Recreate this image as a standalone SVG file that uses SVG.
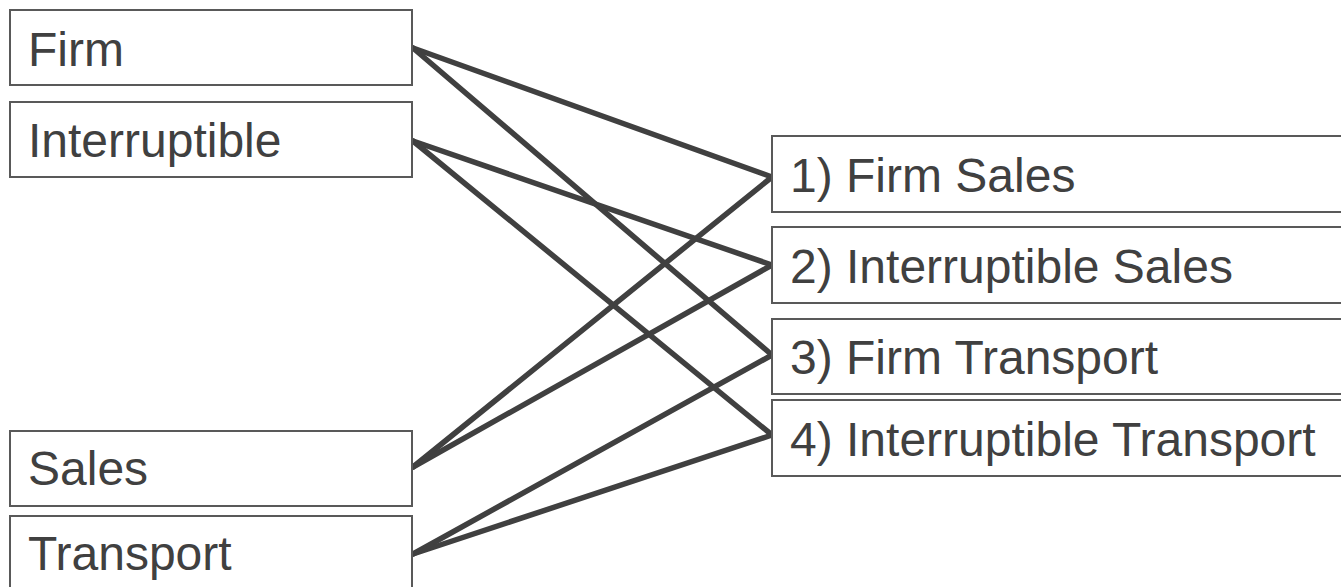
<svg xmlns="http://www.w3.org/2000/svg" width="1341" height="587" viewBox="0 0 1341 587">
<style>
.box{fill:#ffffff;stroke:#595959;stroke-width:2}
.lbl{font-family:"Liberation Sans",Arial,sans-serif;font-size:48px;fill:#404040}
.conn{stroke:#404040;stroke-width:5.5;fill:none;stroke-linecap:round}
</style>
<rect width="1341" height="587" fill="#ffffff"/>
<g id="connectors">
<line class="conn" x1="413" y1="48" x2="772" y2="177"/>
<line class="conn" x1="413" y1="48" x2="772" y2="355"/>
<line class="conn" x1="413" y1="141" x2="772" y2="265"/>
<line class="conn" x1="413" y1="141" x2="772" y2="435"/>
<line class="conn" x1="413" y1="467" x2="772" y2="177"/>
<line class="conn" x1="413" y1="467" x2="772" y2="265"/>
<line class="conn" x1="413" y1="554" x2="772" y2="355"/>
<line class="conn" x1="413" y1="554" x2="772" y2="435"/>
</g>
<g id="firm"><rect class="box" x="10" y="10" width="402" height="75"/><text class="lbl" x="28" y="66">Firm</text></g>
<g id="interruptible"><rect class="box" x="10" y="102" width="402" height="75"/><text class="lbl" x="28" y="157">Interruptible</text></g>
<g id="sales"><rect class="box" x="10" y="431" width="402" height="75"/><text class="lbl" x="28" y="485">Sales</text></g>
<g id="transport"><rect class="box" x="10" y="516" width="402" height="80"/><text class="lbl" x="28" y="570">Transport</text></g>
<g id="firm-sales"><rect class="box" x="772" y="136" width="580" height="76"/><text class="lbl" x="790" y="192">1) Firm Sales</text></g>
<g id="interruptible-sales"><rect class="box" x="772" y="227" width="580" height="76"/><text class="lbl" x="790" y="283">2) Interruptible Sales</text></g>
<g id="firm-transport"><rect class="box" x="772" y="319" width="580" height="75"/><text class="lbl" x="790" y="374">3) Firm Transport</text></g>
<g id="interruptible-transport"><rect class="box" x="772" y="400" width="580" height="76"/><text class="lbl" x="790" y="456">4) Interruptible Transport</text></g>
</svg>
